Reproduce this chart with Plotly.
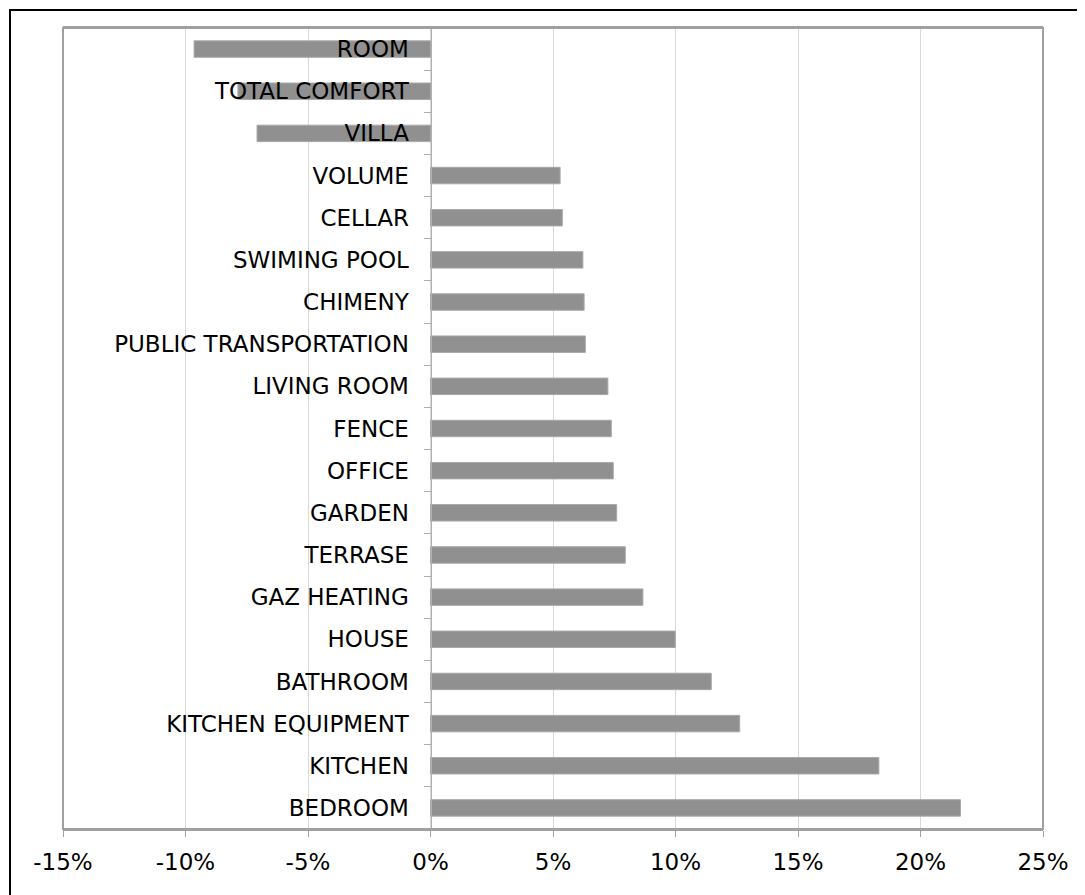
import plotly.graph_objects as go

categories = ["ROOM", "TOTAL COMFORT", "VILLA", "VOLUME", "CELLAR", "SWIMING POOL",
              "CHIMENY", "PUBLIC TRANSPORTATION", "LIVING ROOM", "FENCE", "OFFICE",
              "GARDEN", "TERRASE", "GAZ HEATING", "HOUSE", "BATHROOM",
              "KITCHEN EQUIPMENT", "KITCHEN", "BEDROOM"]
values = [-9.65, -7.86, -7.08, 5.29, 5.38, 6.22, 6.27, 6.32, 7.24, 7.38, 7.46,
          7.60, 7.95, 8.67, 9.99, 11.46, 12.62, 18.30, 21.63]
x_ticks = [-15, -10, -5, 0, 5, 10, 15, 20, 25]
x_tick_labels = ["-15%", "-10%", "-5%", "0%", "5%", "10%", "15%", "20%", "25%"]

# page has an 8px body margin; figure sized to fit the 1085x895 window
OFF = 8
W, H = 1085 - OFF, 895 - OFF
L, R, T, B = 63 - OFF, 1043 - OFF, 28 - OFF, 829 - OFF
pw, ph = R - L, B - T

FONT = "DejaVu Sans"

fig = go.Figure(go.Bar(
    x=values, y=categories, orientation="h",
    marker=dict(color="#909090", line=dict(color="#a8a8a8", width=1)),
    width=0.39,
))

fig.update_layout(
    width=W, height=H,
    margin=dict(l=L, r=W - R, t=T, b=H - B, pad=0),
    paper_bgcolor="white", plot_bgcolor="white",
    showlegend=False,
    font=dict(family=FONT, size=23, color="black"),
    xaxis=dict(
        range=[-15, 25], tickvals=x_ticks, ticktext=x_tick_labels,
        showgrid=True, gridcolor="#d9d9d9", gridwidth=1,
        zeroline=False,
        showline=True, linecolor="#a0a0a0", linewidth=2, mirror=True,
        ticks="outside", ticklen=6, tickcolor="#a0a0a0",
        tickfont=dict(family=FONT, size=23),
        ticklabelstandoff=5,
        fixedrange=True,
    ),
    yaxis=dict(
        categoryorder="array", categoryarray=categories,
        autorange="reversed",
        anchor="free", position=(0 - (-15)) / 40,
        showline=True, linecolor="#b0b0b0", linewidth=1,
        ticks="outside", ticklen=7, tickcolor="#b0b0b0", tickson="boundaries",
        showgrid=False, zeroline=False,
        tickfont=dict(family=FONT, size=23),
        ticklabelstandoff=17,
        fixedrange=True,
    ),
    shapes=[
        dict(type="rect", xref="paper", yref="paper",
             x0=0, x1=1, y0=0, y1=1,
             line=dict(color="#a0a0a0", width=2), layer="above"),
        dict(type="rect", xref="paper", yref="paper",
             x0=(2 - L) / pw, x1=(W + 20 - L) / pw,
             y0=-(H + 20 - B) / ph, y1=1 + (T - 2) / ph,
             line=dict(color="black", width=2)),
    ],
)

fig.write_html("out.html")
